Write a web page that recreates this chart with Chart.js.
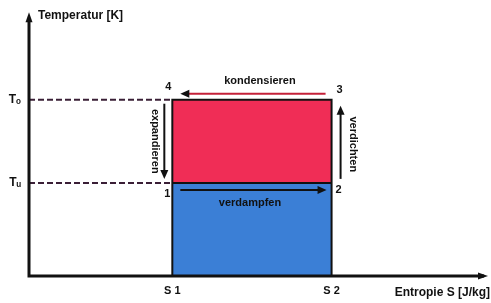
<!DOCTYPE html>
<html>
<head>
<meta charset="utf-8">
<script src="https://cdn.jsdelivr.net/npm/chart.js@4/dist/chart.umd.min.js"></script>
<style>
  html, body { margin: 0; padding: 0; background: #fff; }
  #wrap { width: 491px; height: 303px; position: relative; }
</style>
</head>
<body>
<div id="wrap"><canvas id="chart"></canvas></div>
<script>
// Entropie S1, S2 and Temperaturen Tu, To (axis units 0..10)
const sValues = [3.15, 6.65];
const tValues = [3.57, 6.76];
const xTickLabels = ["S 1", "S 2"];
const yTickLabels = ["T\u1D64", "T\u2092"];
const pointLabels = ["1", "2", "3", "4"];
const stepLabels = ["verdampfen", "verdichten", "kondensieren", "expandieren"];

const [S1, S2] = sValues;
const [Tu, To] = tValues;
const RED = "#f02d56";
const BLUE = "#3b7fd6";
const FONT = "'Liberation Sans', Arial, sans-serif";

function arrow(ctx, x1, y1, x2, y2, lineColor, headColor) {
  const ang = Math.atan2(y2 - y1, x2 - x1);
  ctx.save();
  ctx.strokeStyle = lineColor;
  ctx.lineWidth = 2;
  ctx.beginPath();
  ctx.moveTo(x1, y1);
  ctx.lineTo(x2 - Math.cos(ang) * 6, y2 - Math.sin(ang) * 6);
  ctx.stroke();
  ctx.fillStyle = headColor;
  ctx.translate(x2, y2);
  ctx.rotate(ang);
  ctx.beginPath();
  ctx.moveTo(0, 0);
  ctx.lineTo(-9, -4);
  ctx.lineTo(-9, 4);
  ctx.closePath();
  ctx.fill();
  ctx.restore();
}

function text(ctx, str, x, y, size, align, rot) {
  ctx.save();
  ctx.font = "bold " + size + "px " + FONT;
  ctx.fillStyle = "#111";
  ctx.textAlign = align || "center";
  ctx.textBaseline = "middle";
  ctx.translate(x, y);
  if (rot) ctx.rotate(rot);
  ctx.fillText(str, 0, 0);
  ctx.restore();
}

const diagramPlugin = {
  id: "diagram",
  afterDraw(chart) {
    const { ctx, chartArea, scales } = chart;
    const xs = scales.x, ys = scales.y;
    const x0 = chartArea.left, y0 = chartArea.bottom;
    const xa = xs.getPixelForValue(S1), xb = xs.getPixelForValue(S2);
    const yu = ys.getPixelForValue(Tu), yo = ys.getPixelForValue(To);

    // axes with arrow heads
    ctx.save();
    ctx.strokeStyle = "#111";
    ctx.fillStyle = "#111";
    ctx.lineWidth = 3;
    ctx.beginPath();
    ctx.moveTo(x0, y0 + 1.5);
    ctx.lineTo(x0, chartArea.top + 4);
    ctx.moveTo(x0 - 1.5, y0);
    ctx.lineTo(chartArea.right, y0);
    ctx.stroke();
    ctx.beginPath();
    ctx.moveTo(x0, chartArea.top - 3);
    ctx.lineTo(x0 - 3.5, chartArea.top + 7);
    ctx.lineTo(x0 + 3.5, chartArea.top + 7);
    ctx.closePath();
    ctx.fill();
    ctx.beginPath();
    ctx.moveTo(chartArea.right + 4, y0);
    ctx.lineTo(chartArea.right - 6, y0 - 3.5);
    ctx.lineTo(chartArea.right - 6, y0 + 3.5);
    ctx.closePath();
    ctx.fill();
    ctx.restore();

    // axis titles
    text(ctx, "Temperatur [K]", x0 + 9, 16, 12, "left");
    text(ctx, "Entropie S [J/kg]", 490, 293, 12, "right");

    // process arrows
    arrow(ctx, xa + 8, yu + 7, xb - 5, yu + 7, "#111", "#111");
    arrow(ctx, xb + 9, yu - 4, xb + 9, yo + 6, "#111", "#111");
    arrow(ctx, xb - 6, yo - 6, xa + 8, yo - 6, "#c42038", "#111");
    arrow(ctx, xa - 8, yo + 4, xa - 8, yu - 4, "#111", "#111");

    // step labels
    text(ctx, stepLabels[0], (xa + xb) / 2 - 2, yu + 20, 11);
    text(ctx, stepLabels[1], xb + 21, (yu + yo) / 2 + 3, 11, "center", Math.PI / 2);
    text(ctx, stepLabels[2], (xa + xb) / 2 + 8, yo - 19, 11);
    text(ctx, stepLabels[3], xa - 17, (yu + yo) / 2, 11, "center", Math.PI / 2);

    // corner numbers
    text(ctx, pointLabels[0], xa - 5, yu + 11, 11);
    text(ctx, pointLabels[1], xb + 7, yu + 7, 11);
    text(ctx, pointLabels[2], xb + 8, yo - 10, 11);
    text(ctx, pointLabels[3], xa - 4, yo - 13, 11);
  }
};

const line = (data, extra) => Object.assign({
  data,
  borderColor: "#111",
  borderWidth: 2,
  pointRadius: 0,
  fill: false,
  tension: 0
}, extra);

new Chart(document.getElementById("chart"), {
  type: "line",
  data: {
    datasets: [
      line([{ x: S1, y: 0 }, { x: S1, y: To }, { x: S2, y: To }, { x: S2, y: 0 }]),
      line([{ x: S1, y: Tu }, { x: S2, y: Tu }]),
      line([{ x: 0, y: To }, { x: S1, y: To }], { borderColor: "#3a1f36", borderDash: [6, 3] }),
      line([{ x: 0, y: Tu }, { x: S1, y: Tu }], { borderColor: "#3a1f36", borderDash: [6, 3] }),
      line([{ x: S1, y: To }, { x: S2, y: To }], { borderWidth: 0, backgroundColor: RED, fill: { value: Tu } }),
      line([{ x: S1, y: Tu }, { x: S2, y: Tu }], { borderWidth: 0, backgroundColor: BLUE, fill: "origin" })
    ]
  },
  options: {
    responsive: true,
    maintainAspectRatio: false,
    animation: false,
    layout: { padding: { top: 8, right: 7, left: 0, bottom: 0 } },
    plugins: { legend: { display: false }, tooltip: { enabled: false } },
    scales: {
      x: {
        type: "linear",
        min: 0,
        max: 10,
        grid: { display: false, drawTicks: false },
        border: { display: false },
        afterBuildTicks: (scale) => { scale.ticks = sValues.map((v) => ({ value: v })); },
        afterFit: (scale) => { scale.height = 27; },
        ticks: {
          autoSkip: false,
          maxRotation: 0,
          padding: 8,
          color: "#111",
          font: { family: FONT, size: 11, weight: "bold" },
          callback: (v, i) => xTickLabels[i]
        }
      },
      y: {
        type: "linear",
        min: 0,
        max: 10,
        grid: { display: false, drawTicks: false },
        border: { display: false },
        afterBuildTicks: (scale) => { scale.ticks = tValues.map((v) => ({ value: v })); },
        afterFit: (scale) => { scale.width = 29; },
        ticks: {
          autoSkip: false,
          padding: 8,
          color: "#111",
          font: { family: FONT, size: 12, weight: "bold" },
          callback: (v, i) => yTickLabels[i]
        }
      }
    }
  },
  plugins: [diagramPlugin]
});
</script>
</body>
</html>
